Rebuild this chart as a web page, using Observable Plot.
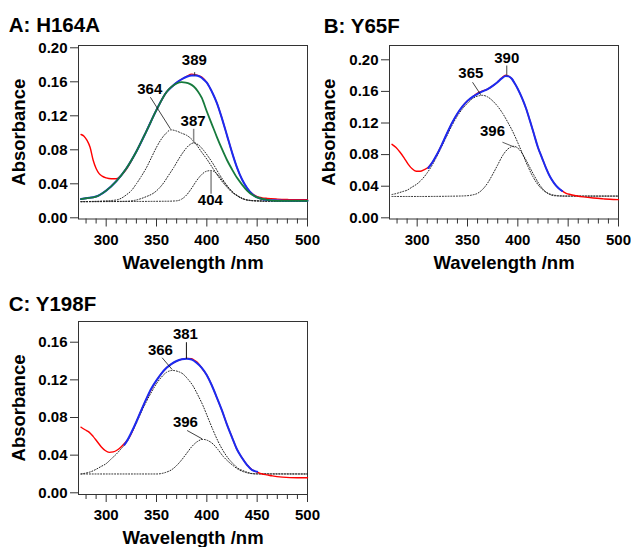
<!DOCTYPE html>
<html><head><meta charset="utf-8">
<script src="https://cdn.jsdelivr.net/npm/d3@7"></script>
<script src="https://cdn.jsdelivr.net/npm/@observablehq/plot@0.6"></script>
<style>
html,body{margin:0;padding:0;background:#fff;}
#root{position:relative;width:631px;height:547px;overflow:hidden;background:#fff;}
#root > svg{position:absolute;}
</style></head><body><div id="root"></div>
<script>
// ---------- axis ticks ----------
const xMajor = [300, 350, 400, 450, 500];
const xMinor = [280, 290, 310, 320, 330, 340, 360, 370, 380, 390, 410, 420, 430, 440, 460, 470, 480, 490];
const yTicksAB = [0, 0.04, 0.08, 0.12, 0.16, 0.20];
const yTicksC = [0, 0.04, 0.08, 0.12, 0.16];

// ---------- Panel A: H164A ----------
const aObsNm = [275,278,281,284,287,290,293,296,300,305,310,315,320,325,330,340,350,360,370,380,385,388,391,395,400,403,406,410,415,420,425,430,435,440,445,450,455,460,470,480,490,500];
const aObsAbs = [0.098,0.096,0.091,0.083,0.068,0.058,0.052,0.049,0.047,0.046,0.046,0.050,0.057,0.067,0.078,0.102,0.127,0.148,0.159,0.1665,0.169,0.1685,0.1675,0.1655,0.159,0.153,0.146,0.135,0.117,0.097,0.077,0.059,0.045,0.035,0.0285,0.025,0.0235,0.0228,0.022,0.0215,0.0212,0.0212];
const aFitNm = [275,280,290,300,310,320,330,340,350,360,365,370,375,380,385,389,393,397,400,403,406,410,415,420,425,430,435,440,445,450,460,470,485,500];
const aFitAbs = [0.022,0.023,0.025,0.032,0.043,0.058,0.078,0.102,0.127,0.148,0.154,0.159,0.163,0.166,0.1675,0.1675,0.166,0.1625,0.159,0.153,0.146,0.135,0.117,0.097,0.077,0.059,0.045,0.035,0.028,0.024,0.021,0.0205,0.020,0.020];
const aGreenNm = [275,280,290,300,310,320,330,340,350,360,370,375,379,383,387,391,395,400,405,410,415,420,425,430,435,440,445,450,460,470,485,500];
const aGreenAbs = [0.022,0.023,0.025,0.032,0.043,0.058,0.078,0.102,0.127,0.148,0.158,0.1595,0.159,0.1575,0.1545,0.149,0.141,0.125,0.110,0.095,0.081,0.068,0.057,0.047,0.039,0.032,0.027,0.024,0.021,0.020,0.020,0.020];
const a364Nm = [275,300,310,315,320,325,330,335,340,345,350,355,360,364,370,375,380,387,395,400,405,410,415,420,425,430,435,440,450,460,500];
const a364Abs = [0.019,0.020,0.021,0.023,0.027,0.032,0.040,0.049,0.059,0.071,0.083,0.093,0.100,0.1035,0.102,0.0995,0.097,0.090,0.077,0.069,0.060,0.051,0.043,0.036,0.030,0.026,0.023,0.021,0.020,0.0195,0.0195];
const a387Nm = [275,320,330,340,347,352,357,362,367,372,377,382,387,392,397,402,407,412,417,422,427,432,437,445,460,500];
const a387Abs = [0.019,0.0195,0.021,0.025,0.029,0.034,0.041,0.050,0.059,0.069,0.078,0.085,0.088,0.0855,0.079,0.071,0.062,0.052,0.043,0.035,0.029,0.025,0.022,0.020,0.0195,0.0195];
const a404Nm = [275,360,370,375,380,385,390,395,399,404,409,414,419,424,429,434,440,450,500];
const a404Abs = [0.019,0.0195,0.020,0.022,0.027,0.035,0.044,0.051,0.0545,0.0556,0.053,0.046,0.039,0.032,0.027,0.023,0.021,0.020,0.0195];

// ---------- Panel B: Y65F ----------
const bObsNm = [275,279,283,287,291,295,299,303,307,311,315,320,325,330,335,340,345,350,355,360,365,370,375,380,384,388,391,394,397,400,404,408,412,416,420,424,428,432,436,440,444,448,452,458,465,475,485,495,500];
const bObsAbs = [0.093,0.089,0.083,0.076,0.068,0.062,0.059,0.059,0.061,0.064,0.070,0.081,0.094,0.108,0.121,0.132,0.141,0.148,0.153,0.158,0.1605,0.163,0.167,0.172,0.177,0.1805,0.179,0.176,0.170,0.163,0.152,0.139,0.123,0.106,0.089,0.076,0.063,0.052,0.044,0.038,0.034,0.031,0.0295,0.028,0.0265,0.025,0.024,0.0232,0.023];
const bFitNm = [311,315,320,325,330,335,340,345,350,355,360,365,370,375,380,384,388,391,394,397,400,404,408,412,416,420,424,428,432,436,440,444];
const bFitAbs = [0.063,0.070,0.081,0.094,0.108,0.121,0.132,0.141,0.148,0.153,0.157,0.160,0.163,0.167,0.172,0.1765,0.1795,0.179,0.176,0.170,0.163,0.152,0.139,0.123,0.106,0.089,0.076,0.063,0.052,0.044,0.038,0.034];
const b365Nm = [275,280,285,290,295,300,305,310,315,320,325,330,335,340,345,350,355,360,365,370,375,380,385,390,395,400,405,410,415,420,425,430,435,440,450,500];
const b365Abs = [0.0295,0.031,0.033,0.035,0.039,0.043,0.049,0.057,0.067,0.079,0.092,0.105,0.118,0.129,0.138,0.145,0.151,0.154,0.155,0.153,0.148,0.141,0.132,0.121,0.109,0.095,0.080,0.065,0.052,0.042,0.035,0.031,0.029,0.028,0.0275,0.0275];
const b396Nm = [275,300,340,350,355,360,365,370,375,380,385,390,396,401,406,411,416,421,426,431,436,445,500];
const b396Abs = [0.027,0.027,0.0275,0.028,0.029,0.031,0.036,0.044,0.055,0.067,0.079,0.087,0.0905,0.087,0.078,0.066,0.054,0.043,0.035,0.030,0.028,0.0275,0.0275];

// ---------- Panel C: Y198F ----------
const cObsNm = [275,279,283,287,291,295,299,303,307,311,315,319,323,330,340,350,360,370,375,380,385,388,392,396,400,405,410,415,420,425,430,435,440,445,450,455,460,465,475,490,500];
const cObsAbs = [0.0697,0.067,0.0645,0.060,0.0545,0.049,0.045,0.043,0.0435,0.0455,0.049,0.0535,0.059,0.0755,0.100,0.1195,0.1328,0.140,0.1418,0.1428,0.1425,0.1405,0.137,0.131,0.125,0.114,0.101,0.0875,0.0725,0.059,0.046,0.037,0.0295,0.0245,0.022,0.020,0.019,0.018,0.0167,0.016,0.016];
const cFitNm = [318,320,325,330,335,340,345,350,355,360,365,370,375,380,385,390,395,400,405,410,415,420,425,430,435,440,445,450];
const cFitAbs = [0.051,0.054,0.064,0.0755,0.088,0.100,0.111,0.1195,0.127,0.1328,0.137,0.140,0.1418,0.1424,0.1415,0.138,0.1328,0.125,0.114,0.101,0.0875,0.0725,0.059,0.046,0.037,0.0295,0.024,0.0225];
const c366Nm = [275,280,285,290,295,300,305,310,315,320,325,330,335,340,345,350,355,360,366,371,376,381,386,391,396,401,406,411,416,421,426,431,436,441,449,500];
const c366Abs = [0.020,0.021,0.0225,0.025,0.028,0.031,0.036,0.041,0.047,0.053,0.063,0.074,0.086,0.097,0.107,0.116,0.123,0.128,0.130,0.129,0.1265,0.121,0.114,0.104,0.093,0.080,0.067,0.055,0.045,0.037,0.031,0.026,0.0235,0.0215,0.020,0.020];
const c396Nm = [275,350,355,360,365,370,375,380,385,390,396,401,406,411,416,421,426,431,436,441,446,500];
const c396Abs = [0.020,0.020,0.0205,0.022,0.0245,0.029,0.035,0.042,0.049,0.054,0.0568,0.0555,0.052,0.046,0.039,0.0335,0.029,0.025,0.0225,0.021,0.0203,0.020];

// ---------- peak labels (label text + placement in data units) ----------
const aNotes = [
  {label: "389", tx: 387.6, ty: 0.185, x1: 387.9, y1: 0.1713, x2: 387.9, y2: 0.1674, color: "#333", width: 1},
  {label: "364", tx: 343.3, ty: 0.1518, x1: 343.9, y1: 0.1419, x2: 363.8, y2: 0.1047, color: "#111", width: 0.8},
  {label: "387", tx: 386.3, ty: 0.1136, x1: 386.9, y1: 0.1047, x2: 386.9, y2: 0.0878, color: "#888", width: 1.5},
  {label: "404", tx: 403.5, ty: 0.0212, x1: 404.2, y1: 0.0556, x2: 404.2, y2: 0.0282, color: "#888", width: 1.5}
];
const bNotes = [
  {label: "390", tx: 389, ty: 0.2025, x1: 389, y1: 0.1928, x2: 389, y2: 0.1801, color: "#444", width: 1},
  {label: "365", tx: 353.3, ty: 0.183, x1: 355, y1: 0.1716, x2: 363.2, y2: 0.1557, color: "#111", width: 0.8},
  {label: "396", tx: 374.8, ty: 0.1096, x1: 384.7, y1: 0.0957, x2: 396.9, y2: 0.0894, color: "#333", width: 0.8}
];
const cNotes = [
  {label: "381", tx: 378.7, ty: 0.169, x1: 379.7, y1: 0.160, x2: 379.7, y2: 0.1424, color: "#111", width: 1},
  {label: "366", tx: 353.9, ty: 0.152, x1: 355.6, y1: 0.1435, x2: 365.5, y2: 0.131, color: "#111", width: 0.8},
  {label: "396", tx: 378.7, ty: 0.075, x1: 380.4, y1: 0.0662, x2: 395.2, y2: 0.0574, color: "#111", width: 0.8}
];

// ---------- drawing ----------
const FONT = "'Liberation Sans', Arial, Helvetica, sans-serif";
const RED = "#ff0000", BLUE = "#1a2cf2", GREEN = "#167a3c", DOT = "#222222";
const DASH = "1,1.8";
const root = document.getElementById("root");
const rows = (nm, ab) => nm.map((x, i) => ({x, y: ab[i]}));

function panel(cfg) {
  const marks = [
    Plot.frame({stroke: "#333", strokeWidth: 1}),
    ...cfg.curves.map(c => Plot.line(rows(c.nm, c.abs), {
      x: "x", y: "y", stroke: c.color, strokeWidth: c.width,
      strokeDasharray: c.dash, curve: "monotone-x"
    })),
    ...cfg.notes.map(n => Plot.link([n], {x1: "x1", y1: "y1", x2: "x2", y2: "y2", stroke: n.color, strokeWidth: n.width})),
    Plot.text(cfg.notes, {x: "tx", y: "ty", text: "label", fontSize: 15, fontWeight: "bold", fill: "#000", textAnchor: "middle", lineAnchor: "middle"}),
    Plot.axisY(cfg.yTicks, {tickSize: 8, tickPadding: 3, tickFormat: d3.format(".2f"), label: null, fontSize: 15, stroke: "#333", fill: "#000"}),
    Plot.axisX(xMajor, {tickSize: 8, tickPadding: 7, tickFormat: d => String(d), label: null, fontSize: 15, stroke: "#333", fill: "#000"}),
    Plot.axisX(xMinor, {tickSize: 5, fill: "none", label: null, stroke: "#333"}),
    Plot.text([cfg.title], {frameAnchor: "top-left", textAnchor: "start", lineAnchor: "top", dx: cfg.titleDx, dy: cfg.titleDy, fontSize: 20.5, fontWeight: "bold", fill: "#000"}),
    Plot.text(["Absorbance"], {frameAnchor: "left", rotate: -90, textAnchor: "middle", lineAnchor: "middle", dx: cfg.yLabDx, fontSize: 18.5, fontWeight: "bold", fill: "#000"}),
    Plot.text(["Wavelength /nm"], {frameAnchor: "bottom", textAnchor: "middle", lineAnchor: "middle", dy: cfg.xLabDy, fontSize: 18.5, fontWeight: "bold", fill: "#000"})
  ];
  const svg = Plot.plot({
    width: cfg.width, height: cfg.height,
    marginLeft: 78, marginRight: 8, marginTop: 45, marginBottom: cfg.mb,
    x: {domain: [272.5, 500]},
    y: {domain: cfg.yDomain},
    style: {fontFamily: FONT, fontWeight: "bold", fontSize: "15px", color: "#000", background: "transparent", overflow: "visible"},
    marks
  });
  svg.style.left = cfg.left + "px";
  svg.style.top = cfg.top + "px";
  root.appendChild(svg);
}

panel({
  title: "A: H164A", left: 0, top: 0, width: 315, height: 275, mb: 56.5,
  yDomain: [-0.0014, 0.2027], yTicks: yTicksAB,
  titleDx: -69.7, titleDy: -27.7, yLabDx: -59.7, xLabDy: 44,
  curves: [
    {nm: a364Nm, abs: a364Abs, color: DOT, width: 1, dash: DASH},
    {nm: a387Nm, abs: a387Abs, color: DOT, width: 1, dash: DASH},
    {nm: a404Nm, abs: a404Abs, color: DOT, width: 1, dash: DASH},
    {nm: aObsNm, abs: aObsAbs, color: RED, width: 1.4},
    {nm: aFitNm, abs: aFitAbs, color: BLUE, width: 2},
    {nm: aGreenNm, abs: aGreenAbs, color: GREEN, width: 1.8}
  ],
  notes: aNotes
});

panel({
  title: "B: Y65F", left: 311, top: 0, width: 315, height: 275, mb: 56.5,
  yDomain: [-0.0015, 0.2181], yTicks: yTicksAB,
  titleDx: -65.7, titleDy: -26.7, yLabDx: -60.7, xLabDy: 44,
  curves: [
    {nm: b365Nm, abs: b365Abs, color: DOT, width: 1, dash: DASH},
    {nm: b396Nm, abs: b396Abs, color: DOT, width: 1, dash: DASH},
    {nm: bObsNm, abs: bObsAbs, color: RED, width: 1.4},
    {nm: bFitNm, abs: bFitAbs, color: BLUE, width: 2}
  ],
  notes: bNotes
});

panel({
  title: "C: Y198F", left: 0, top: 276, width: 315, height: 271, mb: 53,
  yDomain: [-0.0018, 0.1820], yTicks: yTicksC,
  titleDx: -69.7, titleDy: -25, yLabDx: -59.7, xLabDy: 43.5,
  curves: [
    {nm: c366Nm, abs: c366Abs, color: DOT, width: 1, dash: DASH},
    {nm: c396Nm, abs: c396Abs, color: DOT, width: 1, dash: DASH},
    {nm: cObsNm, abs: cObsAbs, color: RED, width: 1.4},
    {nm: cFitNm, abs: cFitAbs, color: BLUE, width: 2}
  ],
  notes: cNotes
});
</script>
</body></html>
